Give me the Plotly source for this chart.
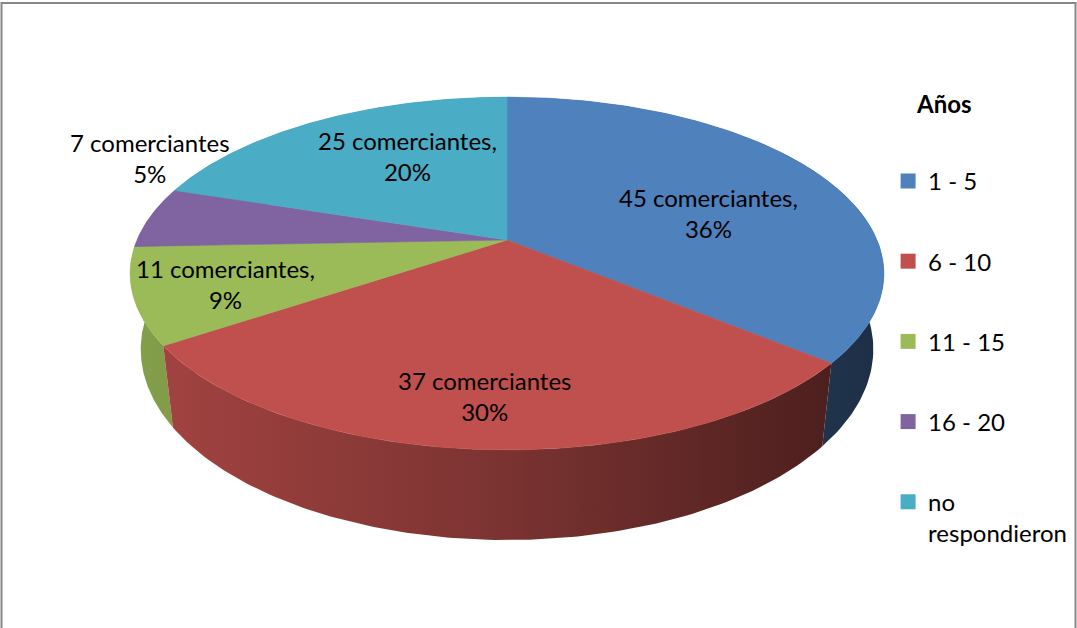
import numpy as np
import plotly.graph_objects as go

# data
categories = ["1 - 5", "6 - 10", "11 - 15", "16 - 20", "no<br>respondieron"]
counts = [45, 37, 11, 7, 25]
percent_labels = ["36%", "30%", "9%", "5%", "20%"]
count_labels = ["45 comerciantes,", "37 comerciantes", "11 comerciantes,", "7 comerciantes", "25 comerciantes,"]
colors = ["#4F81BD", "#C0504D", "#9BBB59", "#8064A2", "#4BACC6"]

# label placement (pixel space) for each slice
label_pos = [(708, 213), (484, 396), (225, 284), (150, 158), (407, 156)]

# fake 3D pie geometry (pixel space, perspective tilt)
CX, CY = 507, 240
A, B, K = 370, 170, 0.19
DEPTH, SHRINK = 73, 0.972
FONT = "Lato"


def rim(phi_deg, bottom=False):
    phi = np.radians(phi_deg)
    u, v = np.sin(phi), -np.cos(phi)
    s = 1 / (1 - K * v)
    m = SHRINK if bottom else 1.0
    x = CX + A * m * u * s
    y = CY + B * v * s + (DEPTH * s if bottom else 0)
    return x, y


def shade(hex_color, f):
    r, g, b = (int(hex_color[i:i + 2], 16) for i in (1, 3, 5))
    return f"rgb({int(r * f)},{int(g * f)},{int(b * f)})"


total = sum(counts)
bounds = np.cumsum([0] + counts) / total * 360
fig = go.Figure()

# side walls, back to front
order = [4, 3, 2, 0, 1]
for i in order:
    a0, a1 = bounds[i], bounds[i + 1]
    phis = np.linspace(a0, a1, 120)
    tx, ty = rim(phis)
    bx, by = rim(phis[::-1], bottom=True)
    fig.add_trace(go.Scatter(
        x=np.concatenate([tx, bx, tx[:1]]),
        y=np.concatenate([ty, by, ty[:1]]),
        mode="lines", fill="toself", line=dict(width=0),
        fillgradient=dict(
            type="horizontal", start=CX - A * 1.02, stop=CX + A * 1.02,
            colorscale=[[0, shade(colors[i], 0.86)], [0.5, shade(colors[i], 0.64)],
                        [1, shade(colors[i], 0.36)]],
        ),
        hoverinfo="skip", showlegend=False,
    ))

# top faces
for i in range(len(counts)):
    a0, a1 = bounds[i], bounds[i + 1]
    phis = np.linspace(a0, a1, 160)
    tx, ty = rim(phis)
    fig.add_trace(go.Scatter(
        x=np.concatenate([[CX], tx, [CX]]),
        y=np.concatenate([[CY], ty, [CY]]),
        mode="lines", fill="toself", fillcolor=colors[i],
        line=dict(width=0.6, color=colors[i]),
        hoverinfo="skip", showlegend=False,
    ))

# legend entries
for i, cat in enumerate(categories):
    fig.add_trace(go.Scatter(
        x=[None], y=[None], mode="markers", name=cat, legendgroup=str(i),
        marker=dict(symbol="square", size=15, color=colors[i]),
    ))

for (lx, ly), c, p in zip(label_pos, count_labels, percent_labels):
    fig.add_annotation(x=lx, y=ly, text=f"{c}<br>{p}", showarrow=False,
                       font=dict(family=FONT, size=24, color="black"))

# legend title
fig.add_annotation(x=944, y=103, text="<b>Años</b>", showarrow=False,
                   font=dict(family=FONT, size=24, color="black"))

fig.add_shape(type="rect", x0=1.5, x1=1075.5, y0=3, y1=700,
              line=dict(color="#878787", width=2))

fig.update_layout(
    width=1077, height=628,
    margin=dict(l=0, r=0, t=0, b=0),
    plot_bgcolor="white", paper_bgcolor="white",
    xaxis=dict(range=[0, 1077], visible=False, fixedrange=True),
    yaxis=dict(range=[628, 0], visible=False, fixedrange=True),
    showlegend=True,
    legend=dict(
        x=0.8246, y=0.747, xanchor="left", yanchor="top",
        font=dict(family=FONT, size=24, color="black"),
        tracegroupgap=46, valign="top", itemwidth=30,
    ),
    font=dict(family=FONT),
)

fig.write_html("out.html", config={"displayModeBar": False},
               post_script="document.body.style.margin='0';")
